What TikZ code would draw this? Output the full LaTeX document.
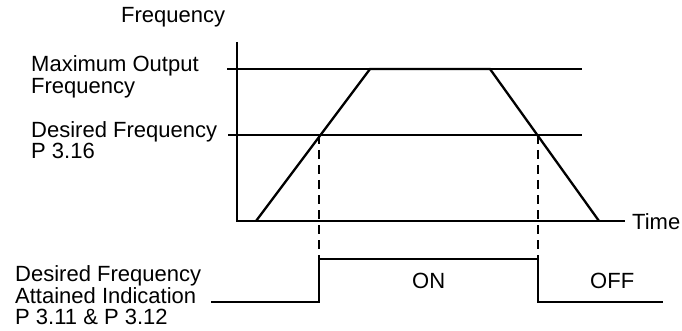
\documentclass[tikz,border=0pt]{standalone}
\usepackage{fontspec}
\setmainfont{Liberation Sans}
\begin{document}
\begin{tikzpicture}[x=1pt,y=-1pt,
  line/.style={line width=2.3pt,line join=miter},
  dash line/.style={line width=2.3pt,dash pattern=on 9pt off 6pt},
  lbl/.style={anchor=base west,inner sep=0pt,font=\fontsize{22}{22}\selectfont}]
\useasboundingbox[fill=white] (0,0) rectangle (682,331);
% axes
\coordinate (ytop) at (237,42);
\coordinate (orig) at (237,221);
\coordinate (xend) at (625,221);
\draw[line] (ytop) -- (orig) -- (xend);
% reference levels
\coordinate (maxA) at (227,69);
\coordinate (maxB) at (582,69);
\coordinate (desA) at (228,135);
\coordinate (desB) at (582,135);
\draw[line] (maxA) -- (maxB);
\draw[line] (desA) -- (desB);
% trapezoid
\coordinate (t0) at (256,221);
\coordinate (t1) at (370,69);
\coordinate (t2) at (490,69);
\coordinate (t3) at (599,221);
\draw[line] (t0) -- (t1) -- (t2) -- (t3);
% dashed markers
\coordinate (d1a) at (319,135);
\coordinate (d1b) at (319,259);
\coordinate (d2a) at (538,135);
\coordinate (d2b) at (538,259);
\draw[dash line] (d1a) -- (d1b);
\draw[dash line] (d2a) -- (d2b);
% pulse
\coordinate (p0) at (211,302);
\coordinate (p1) at (319,302);
\coordinate (p2) at (538,302);
\coordinate (p3) at (663,302);
\draw[line] (p0) -- (p1) -- (d1b) -- (d2b) -- (p2) -- (p3);
% labels
\node[lbl] (lfreq) at (121,23) {Frequency};
\node[lbl] (lmax1) at (31,72) {Maximum Output};
\node[lbl] (lmax2) at (31,94) {Frequency};
\node[lbl] (ldes1) at (31,138) {Desired Frequency};
\node[lbl] (ldes2) at (31,159) {P 3.16};
\node[lbl] (ltime) at (632,229) {Time};
\node[lbl] (lon) at (412,288) {ON};
\node[lbl] (loff) at (590,288) {OFF};
\node[lbl] (lb1) at (15,281) {Desired Frequency};
\node[lbl] (lb2) at (15,303) {Attained Indication};
\node[lbl] (lb3) at (15,324) {P 3.11 \& P 3.12};
\end{tikzpicture}
\end{document}
